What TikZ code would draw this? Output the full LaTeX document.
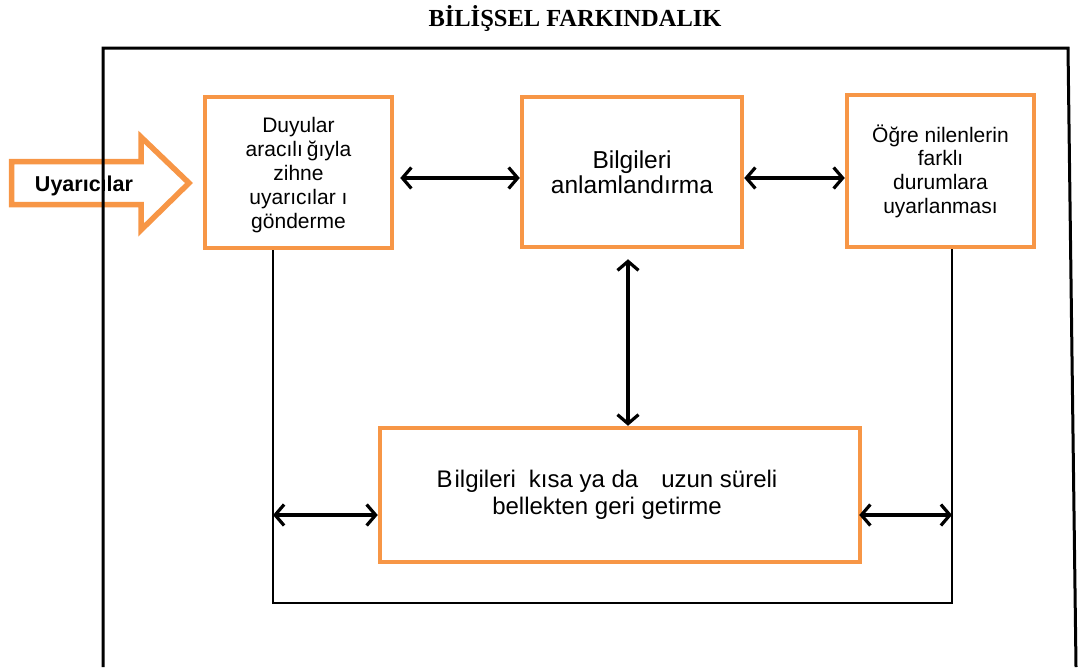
\documentclass[tikz,border=0pt]{standalone}
\usepackage{fontspec}
\setmainfont{Liberation Sans}
\newfontfamily\titlefont{Liberation Serif}
\usetikzlibrary{arrows.meta}
\definecolor{boxorange}{HTML}{F79646}
\tikzset{
  box/.style={draw=boxorange, line width=4.5pt, fill=white, inner sep=0pt, align=center},
  barb/.tip={Straight Barb[length=9pt,width=21pt,line width=3.2pt]},
  conn/.style={line width=3.2pt, barb-barb},
  wire/.style={line width=2.8pt},
  frame/.style={line width=3pt, line join=miter},
}
\begin{document}
\begin{tikzpicture}[x=1pt,y=-1pt]
\useasboundingbox (0,0) rectangle (1081,667);

% title
\node[font=\titlefont\bfseries\fontsize{24.5}{27}\selectfont] (title) at (575,19) {BİLİŞSEL FARKINDALIK};

% stimulus arrow
\filldraw[draw=boxorange, fill=white, line width=5.5pt, line join=miter]
  (11.5,161.5) -- (141,161.5) -- (141,137) -- (189,183) -- (141,230) -- (141,204.5) -- (11.5,204.5) -- cycle;
\node[font=\bfseries\fontsize{21.5}{24}\selectfont] (stim) at (84,186) {Uyarıcılar};

% outer frame
\draw[frame] (103,667) -- (103,48) -- (1068,48) -- (1076,667);

% loop line under the boxes
\coordinate (loopL) at (273,603);
\coordinate (loopR) at (952,603);

% process boxes
\node[box, minimum width=187pt, minimum height=151pt] (sense) at (298.5,172.5) {};
\node[font=\fontsize{21}{23.8}\selectfont, align=center] (senseT) at (298.5,175)
  {Duyular\\aracılı\hspace{4pt}ğıyla\\zihne\\uyarıcılar\hspace{6pt}ı\\gönderme};

\node[box, minimum width=220pt, minimum height=150pt, font=\fontsize{24.5}{24.5}\selectfont] (meaning) at (632,172)
  {Bilgileri\\anlamlandırma};

\node[box, minimum width=187pt, minimum height=152pt, font=\fontsize{21}{23.7}\selectfont] (adapt) at (940.5,171)
  {Öğre nilenlerin\\farklı\\durumlara\\uyarlanması};

\node[box, minimum width=480pt, minimum height=134pt] (recall) at (620,495) {};
\node[font=\fontsize{24}{27.5}\selectfont, align=center] (recallT) at (607,495)
  {B\hspace{2pt}ilgileri\hspace{13pt}kısa ya da\hspace{23pt}uzun süreli\\bellekten geri getirme};

\draw[wire] (sense.south -| loopL) -- (loopL) -- (loopR) -- (adapt.south -| loopR);

% connectors
\coordinate (rowY) at (0,178);
\coordinate (recY) at (0,515);
\draw[conn] ([xshift=6pt]sense.east |- rowY) -- (meaning.west |- rowY);
\draw[conn] (meaning.east |- rowY) -- (adapt.west |- rowY);
\draw[conn] ([yshift=-10pt]meaning.south -| 628,0) -- (recall.north -| 628,0);
\draw[conn] (loopL |- recY) -- (recall.west |- recY);
\draw[conn] ([xshift=-3pt]recall.east |- recY) -- (loopR |- recY);
\end{tikzpicture}
\end{document}
